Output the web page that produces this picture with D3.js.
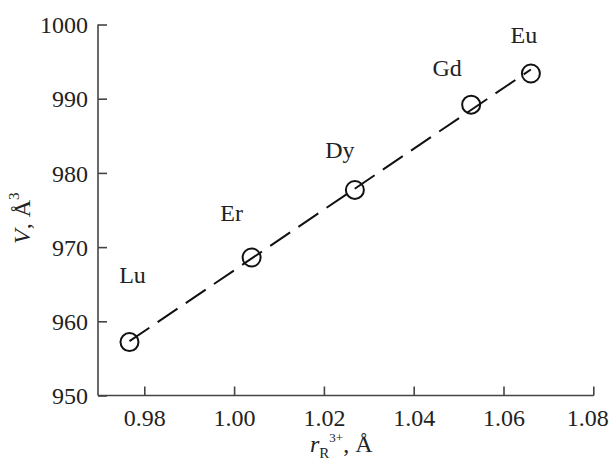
<!DOCTYPE html>
<html><head><meta charset="utf-8">
<script src="https://cdn.jsdelivr.net/npm/d3@7/dist/d3.min.js"></script>
<style>body{margin:0;background:#fff}svg{display:block}</style>
</head><body>
<script>
const elements = ["Lu", "Er", "Dy", "Gd", "Eu"];
const radius = [0.9767, 1.0039, 1.0269, 1.0528, 1.0661];
const volume = [957.2, 968.6, 977.7, 989.2, 993.4];
const xTicks = [0.98, 1.00, 1.02, 1.04, 1.06, 1.08];
const yTicks = [950, 960, 970, 980, 990, 1000];
// label offsets relative to points (px)
const labelDx = [3, -20, -15, -24, -7];
const labelDy = [-59, -36, -32, -29, -30];

const W = 613, H = 462;
const svg = d3.select("body").append("svg").attr("width", W).attr("height", H);
const x = d3.scaleLinear().domain([0.97, 1.08]).range([99.4, 593.3]);
const y = d3.scaleLinear().domain([950, 1000]).range([395.5, 24.5]);
const font = "Liberation Serif, Tinos, Times New Roman, serif";

// x axis
const xa = svg.append("g").attr("transform", `translate(0,${y(950)})`)
  .call(d3.axisBottom(x).tickValues(xTicks).tickSize(-9).tickPadding(20).tickFormat(d3.format(".2f")));
xa.select(".domain").attr("d", `M${x(0.97)-1.5},0H${x(1.08)+0.5}`);
// y axis
const ya = svg.append("g").attr("transform", `translate(${x(0.97)-1.4},0)`)
  .call(d3.axisLeft(y).tickValues(yTicks).tickSize(-9).tickPadding(10).tickFormat(d3.format("d")));
ya.select(".domain").attr("d", `M0,${y(1000)}V${y(950)}`);
svg.selectAll(".domain").attr("stroke", "#444").attr("stroke-width", 1.6);
svg.selectAll(".tick line").attr("stroke", "#444").attr("stroke-width", 1.6);
svg.selectAll(".tick text").style("font-family", font).attr("font-size", 24).attr("fill", "#222");
xa.selectAll(".tick text").attr("dy", "0.71em").attr("y", 13)
  .attr("dx", d => d === 1.08 ? -6 : 0);
ya.selectAll(".tick text").attr("dy", "0.34em");

// regression line
const mx = d3.mean(radius), my = d3.mean(volume);
const slope = d3.sum(radius, (r, i) => (r - mx) * (volume[i] - my)) / d3.sum(radius, r => (r - mx) ** 2);
const icpt = my - slope * mx;
const x0 = d3.min(radius), x1 = d3.max(radius);
svg.append("line")
  .attr("x1", x(x0)).attr("y1", y(icpt + slope * x0))
  .attr("x2", x(x1)).attr("y2", y(icpt + slope * x1))
  .attr("stroke", "#111").attr("stroke-width", 2).attr("stroke-dasharray", "24,10");

// points
svg.selectAll("circle.pt").data(radius).enter().append("circle")
  .attr("cx", d => x(d)).attr("cy", (d, i) => y(volume[i])).attr("r", 9)
  .attr("fill", "none").attr("stroke", "#111").attr("stroke-width", 2);

// element labels
svg.selectAll("text.el").data(elements).enter().append("text")
  .attr("x", (d, i) => x(radius[i]) + labelDx[i]).attr("y", (d, i) => y(volume[i]) + labelDy[i])
  .attr("text-anchor", "middle").style("font-family", font).attr("font-size", 24).attr("fill", "#222")
  .text(d => d);

// x label
const xl = svg.append("text").attr("x", 310).attr("y", 452).style("font-family", font).attr("font-size", 24).attr("fill", "#222");
xl.append("tspan").attr("font-style", "italic").text("r");
xl.append("tspan").attr("font-size", 15).attr("dy", 6).text("R");
xl.append("tspan").attr("font-size", 13).attr("dy", -16).text("3+");
xl.append("tspan").attr("dy", 10).text(", Å");

// y label
const yl = svg.append("text").attr("transform", "translate(30,244) rotate(-90)")
  .style("font-family", font).attr("font-size", 24).attr("fill", "#222");
yl.append("tspan").attr("font-style", "italic").text("V");
yl.append("tspan").text(", Å");
yl.append("tspan").attr("font-size", 15).attr("dy", -11).text("3");
</script>
</body></html>
